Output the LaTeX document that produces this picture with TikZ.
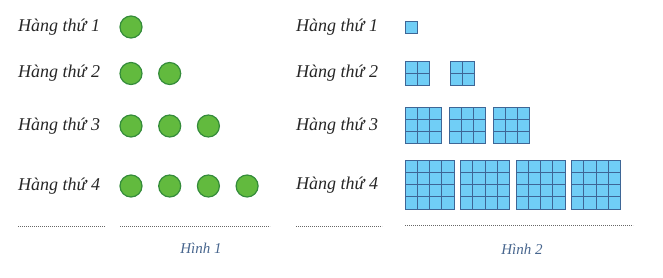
\documentclass[tikz,border=0pt]{standalone}
\usepackage{fontspec}
\setmainfont{Liberation Serif}
\usepackage{tikz}
\usetikzlibrary{positioning,calc}
\definecolor{dotfill}{RGB}{98,186,62}
\definecolor{dotedge}{RGB}{52,140,58}
\definecolor{cellfill}{RGB}{112,206,246}
\definecolor{celledge}{RGB}{62,102,150}
\definecolor{ink}{RGB}{38,38,38}
\definecolor{capt}{RGB}{72,102,142}

\begin{document}
\begin{tikzpicture}[x=1pt,y=-1pt]
\tikzset{rowlbl/.style={anchor=west,inner sep=0pt,text=ink,font=\fontsize{18}{20}\selectfont\itshape},
  dot/.style={circle,draw=dotedge,fill=dotfill,line width=1.2pt,minimum size=22pt,inner sep=0pt},
  cell/.style={draw=celledge,fill=cellfill,line width=0.9pt},
  dotline/.style={draw=ink!70,line width=0.6pt,dash pattern=on 0.7pt off 1.3pt},
  caplbl/.style={inner sep=0pt,text=capt,font=\fontsize{15}{17}\selectfont\itshape}}
\useasboundingbox (0,0) rectangle (663,277);
% Hinh 1
\foreach \r/\y in {1/27,2/73.5,3/126,4/186}{
  \node[rowlbl] (a\r) at (18,\y) {Hàng thứ \r};
  \foreach \k in {1,...,\r}
    \node[dot] (c\r-\k) at ({131+38.7*(\k-1)},\y) {};
}
\coordinate (la1) at (18,226); \coordinate (la2) at (105,226);
\coordinate (lb1) at (120,226); \coordinate (lb2) at (270,226);
\draw[dotline] (la1) -- (la2);
\draw[dotline] (lb1) -- (lb2);
\node[caplbl] (h1) at (201,248) {Hình 1};
% Hinh 2
\def\c{12.25}
\foreach \r/\y/\top/\st in {1/27/21/0,2/73.5/61/45,3/126/107/44,4/185/160/55.5}{
  \node[rowlbl] (b\r) at (296,\y) {Hàng thứ \r};
  \foreach \k in {1,...,\r}
    \foreach \i in {1,...,\r}
      \foreach \j in {1,...,\r}
        \draw[cell] ({405+\st*(\k-1)+\c*(\i-1)},{\top+\c*(\j-1)}) rectangle +(\c,\c);
}
\coordinate (lc1) at (296,226); \coordinate (lc2) at (382,226);
\coordinate (ld1) at (405,225); \coordinate (ld2) at (633,225);
\draw[dotline] (lc1) -- (lc2);
\draw[dotline] (ld1) -- (ld2);
\node[caplbl] (h2) at (522,249) {Hình 2};
\end{tikzpicture}
\end{document}
